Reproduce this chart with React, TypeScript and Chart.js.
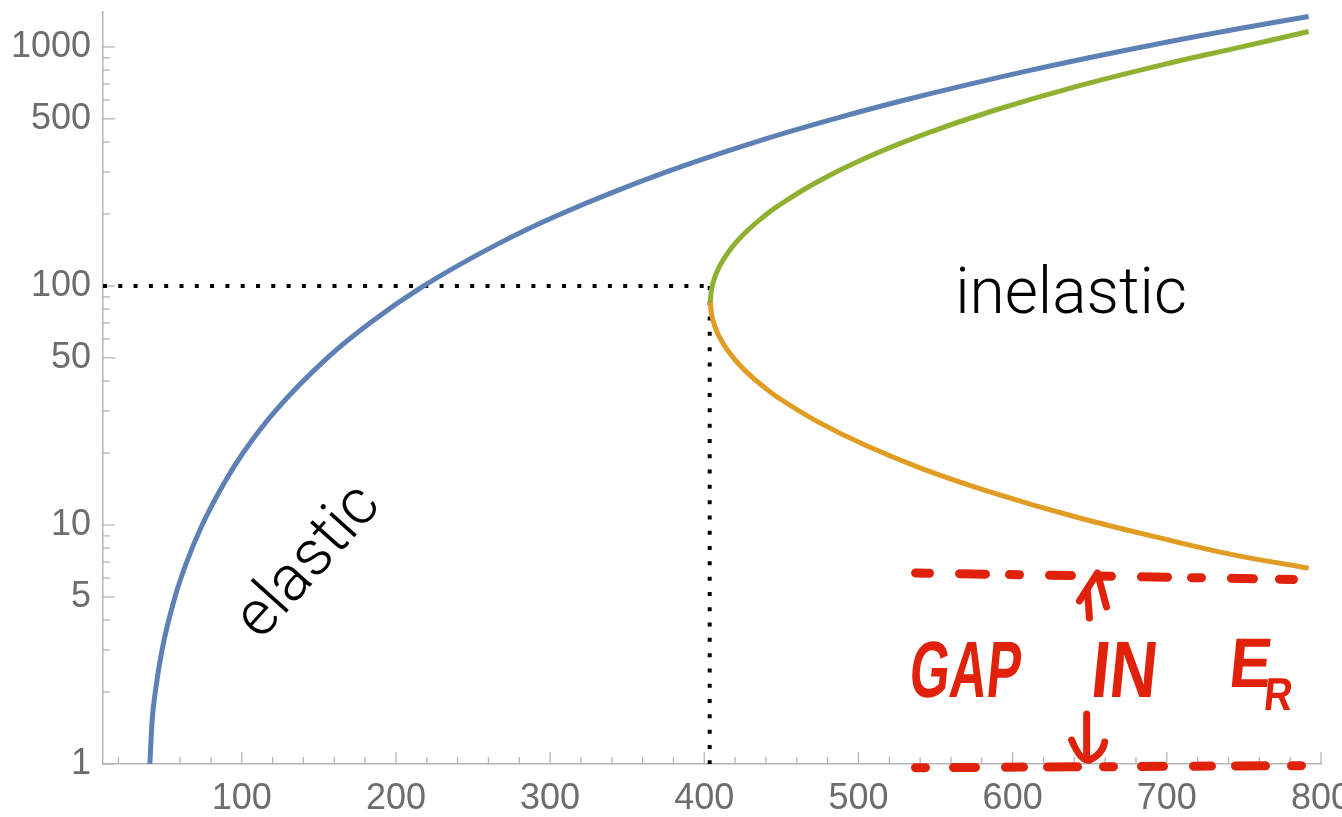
import React, { useEffect, useRef } from 'react';
import { Chart, registerables } from 'chart.js';

Chart.register(...registerables);

// Elastic branch (blue)
const elasticX = [40.4, 41.8, 43.9, 48.3, 56.7, 64.3, 74.3, 88.6, 100.8, 121.8, 155.5, 183.1, 218.0, 266.2, 306.9, 375.4, 433.1, 484.1, 530.1, 611.9, 684.0, 749.1, 792];
const elasticY = [1, 1.5, 2, 3, 5, 7, 10, 15, 20, 30, 50, 70, 100, 150, 200, 300, 400, 500, 600, 800, 1000, 1200, 1340];

// Inelastic, upper branch (green), starting at the turning point
const upperX = [404, 404.67, 406.68, 410.03, 414.76, 420.86, 428.35, 437.26, 447.6, 472.84, 504.21, 542.4, 587.83, 641.05, 702.77, 744.1, 792];
const upperY = [85.9, 96.4, 108.1, 121.3, 136.1, 152.8, 171.4, 192.3, 215.8, 271.6, 342, 430.5, 542, 682.3, 859, 986, 1160];

// Inelastic, lower branch (orange), starting at the turning point
const lowerX = [404, 404.67, 406.68, 410.03, 414.76, 420.86, 428.35, 437.26, 447.6, 472.84, 504.21, 542.4, 587.83, 641.05, 702.77, 744.1, 792];
const lowerY = [85.9, 76.6, 68.2, 60.8, 54.2, 48.3, 43.1, 38.4, 34.2, 27.2, 21.6, 17.1, 13.6, 10.8, 8.6, 7.48, 6.6];

// Threshold guide (dotted)
const thresholdX = 403.5;
const thresholdY = 100;
const axisMinX = 10;
const axisMaxX = 800;
const axisMinY = 1;
const axisMaxY = 1400;

// Hand-drawn "gap" lines
const gapLineX = [537, 795];
const gapTopY = [6.3, 5.9];
const gapBottomY = [0.965, 0.985];

// Ticks
const xTickValues = [20, 40, 60, 80, 100, 120, 140, 160, 180, 200, 220, 240, 260, 280, 300, 320, 340, 360, 380, 400, 420, 440, 460, 480, 500, 520, 540, 560, 580, 600, 620, 640, 660, 680, 700, 720, 740, 760, 780, 800];
const xTickLabels = [100, 200, 300, 400, 500, 600, 700, 800];
const yTickValues = [1, 2, 3, 4, 5, 6, 7, 8, 9, 10, 20, 30, 40, 50, 60, 70, 80, 90, 100, 200, 300, 400, 500, 600, 700, 800, 900, 1000];
const yTickLabels = [1, 5, 10, 50, 100, 500, 1000];

const zip = (xs: number[], ys: number[]) => xs.map((x, i) => ({ x, y: ys[i] }));

const RED = '#e0220b';
const AXIS = '#b5b5b5';
const GREEN = '#8fb131';
const ORANGE = '#e19c24';

const innerTicks = {
  id: 'innerTicks',
  beforeDatasetsDraw(chart: any) {
    const { ctx, chartArea, scales } = chart;
    const x = scales.x;
    const y = scales.y;
    ctx.save();
    ctx.strokeStyle = AXIS;
    ctx.lineWidth = 1.3;
    x.ticks.forEach((t: any) => {
      const px = x.getPixelForValue(t.value);
      const len = xTickLabels.includes(t.value) ? 12 : 7;
      ctx.beginPath();
      ctx.moveTo(px, chartArea.bottom);
      ctx.lineTo(px, chartArea.bottom - len);
      ctx.stroke();
    });
    y.ticks.forEach((t: any) => {
      const py = y.getPixelForValue(t.value);
      const len = yTickLabels.includes(t.value) ? 12 : 7;
      ctx.beginPath();
      ctx.moveTo(chartArea.left, py);
      ctx.lineTo(chartArea.left + len, py);
      ctx.stroke();
    });
    ctx.restore();
  },
};

const annotations = {
  id: 'annotations',
  afterDatasetsDraw(chart: any) {
    const { ctx, scales } = chart;
    const x = scales.x;
    const y = scales.y;
    const P = (vx: number, vy: number) => [x.getPixelForValue(vx), y.getPixelForValue(vy)];
    ctx.save();

    // region labels
    ctx.fillStyle = '#000';
    ctx.font = '300 64px Roboto, "Liberation Sans", sans-serif';
    ctx.textAlign = 'center';
    ctx.textBaseline = 'alphabetic';
    const [ix, iy] = P(637.9, 77.1);
    ctx.fillText('inelastic', ix, iy);

    const [ex, ey] = P(144, 6.93);
    ctx.save();
    ctx.translate(ex, ey);
    ctx.rotate((-48 * Math.PI) / 180);
    ctx.textBaseline = 'middle';
    ctx.fillText('elastic', 0, 0);
    ctx.restore();

    // hand-written red note
    ctx.fillStyle = RED;
    ctx.strokeStyle = RED;
    const word = (txt: string, vx: number, vy: number, size: number, sx: number) => {
      const [px, py] = P(vx, vy);
      ctx.save();
      ctx.translate(px, py);
      ctx.transform(1, 0, -0.1, 1, 0, 0);
      ctx.scale(sx, 1);
      ctx.font = `bold ${size}px "Liberation Sans", Arial, sans-serif`;
      ctx.textAlign = 'center';
      ctx.textBaseline = 'alphabetic';
      ctx.fillText(txt, 0, 0);
      ctx.restore();
    };
    word('GAP', 568, 1.91, 80, 0.64);
    word('IN', 671, 1.91, 80, 0.82);
    word('E', 753, 2.1, 70, 0.9);
    word('R', 771.4, 1.68, 46, 0.85);

    ctx.lineCap = 'round';
    ctx.lineJoin = 'round';
    ctx.lineWidth = 7;
    // up arrow
    const [ux, uy] = P(655, 6.3);
    ctx.beginPath();
    ctx.moveTo(ux - 8, uy + 45);
    ctx.lineTo(ux - 10, uy + 18);
    ctx.stroke();
    ctx.beginPath();
    ctx.moveTo(ux - 18, uy + 28);
    ctx.lineTo(ux, uy);
    ctx.lineTo(ux + 9, uy + 34);
    ctx.stroke();
    // down arrow
    const [dx, dy] = P(648, 1.0);
    ctx.beginPath();
    ctx.moveTo(dx, dy - 50);
    ctx.lineTo(dx, dy - 8);
    ctx.stroke();
    ctx.beginPath();
    ctx.moveTo(dx - 15, dy - 24);
    ctx.quadraticCurveTo(dx - 6, dy - 2, dx + 3, dy - 4);
    ctx.quadraticCurveTo(dx + 16, dy - 10, dx + 18, dy - 22);
    ctx.stroke();

    ctx.restore();
  },
};

export default function App() {
  const ref = useRef<HTMLCanvasElement | null>(null);

  useEffect(() => {
    document.body.style.margin = '0';
    const canvas = ref.current;
    if (!canvas) return;
    const tickFont = { family: '"Liberation Sans", Arial, sans-serif', size: 36 };
    // inelastic curve: lower branch reversed (right → turning point), then upper branch
    const lowerRev = zip(lowerX, lowerY).reverse();
    const turnIndex = lowerRev.length - 1;
    const inelastic = lowerRev.concat(zip(upperX, upperY).slice(1));
    const zeroPad = (s: any) => {
      s.paddingLeft = 0;
      s.paddingRight = 0;
      s.paddingTop = 0;
      s.paddingBottom = 0;
    };
    const chart = new Chart(canvas, {
      type: 'line',
      data: {
        datasets: [
          {
            data: zip(gapLineX, gapTopY),
            borderColor: RED,
            borderWidth: 9,
            borderDash: [14, 30, 26, 24, 10, 30, 22, 26],
            borderCapStyle: 'round',
            pointRadius: 0,
            clip: false,
          },
          {
            data: zip(gapLineX, gapBottomY),
            borderColor: RED,
            borderWidth: 9,
            borderDash: [10, 28, 22, 30, 18, 24, 30, 26],
            borderCapStyle: 'round',
            pointRadius: 0,
            clip: false,
          },
          {
            data: zip(elasticX, elasticY),
            borderColor: '#5e81b5',
            borderWidth: 5,
            pointRadius: 0,
            cubicInterpolationMode: 'monotone',
          },
          {
            data: inelastic,
            borderColor: GREEN,
            borderWidth: 5,
            pointRadius: 0,
            tension: 0.4,
            segment: {
              borderColor: (c: any) => (c.p1DataIndex <= turnIndex ? ORANGE : GREEN),
            },
          },
          {
            data: [
              { x: axisMinX, y: thresholdY },
              { x: thresholdX, y: thresholdY },
            ],
            borderColor: '#000',
            borderWidth: 4,
            borderDash: [4, 11.3],
            borderCapStyle: 'butt',
            pointRadius: 0,
          },
          {
            data: [
              { x: thresholdX, y: thresholdY },
              { x: thresholdX, y: axisMinY },
            ],
            borderColor: '#000',
            borderWidth: 4,
            borderDash: [4, 11.3],
            borderCapStyle: 'butt',
            pointRadius: 0,
            clip: false,
          },
        ],
      },
      options: {
        animation: false,
        responsive: false,
        layout: { padding: { left: 0, top: 12, right: 21, bottom: 0 } },
        plugins: { legend: { display: false }, tooltip: { enabled: false } },
        scales: {
          x: {
            type: 'linear',
            min: axisMinX,
            max: axisMaxX,
            afterBuildTicks: (s: any) => {
              s.ticks = xTickValues.map((v) => ({ value: v }));
            },
            afterFit: (s: any) => {
              s.height = 53;
              zeroPad(s);
            },
            ticks: {
              autoSkip: false,
              maxRotation: 0,
              padding: 13,
              color: '#6d6d6d',
              font: tickFont,
              callback: (v: any) => (xTickLabels.includes(Number(v)) ? String(v) : ''),
            },
            grid: { display: false, drawTicks: false },
            border: { display: true, color: AXIS, width: 1.5 },
          },
          y: {
            type: 'logarithmic',
            min: axisMinY,
            max: axisMaxY,
            afterBuildTicks: (s: any) => {
              s.ticks = yTickValues.map((v) => ({ value: v }));
            },
            afterFit: (s: any) => {
              s.width = 103;
              zeroPad(s);
            },
            ticks: {
              autoSkip: false,
              padding: 12,
              color: '#6d6d6d',
              font: tickFont,
              callback: (v: any) => (yTickLabels.includes(Number(v)) ? String(v) : ''),
            },
            grid: { display: false, drawTicks: false },
            border: { display: true, color: AXIS, width: 1.5 },
          },
        },
      } as any,
      plugins: [innerTicks, annotations],
    });
    return () => chart.destroy();
  }, []);

  return (
    <div style={{ width: 1342, height: 817 }}>
      <canvas ref={ref} width={1342} height={817} style={{ display: 'block' }} />
    </div>
  );
}
